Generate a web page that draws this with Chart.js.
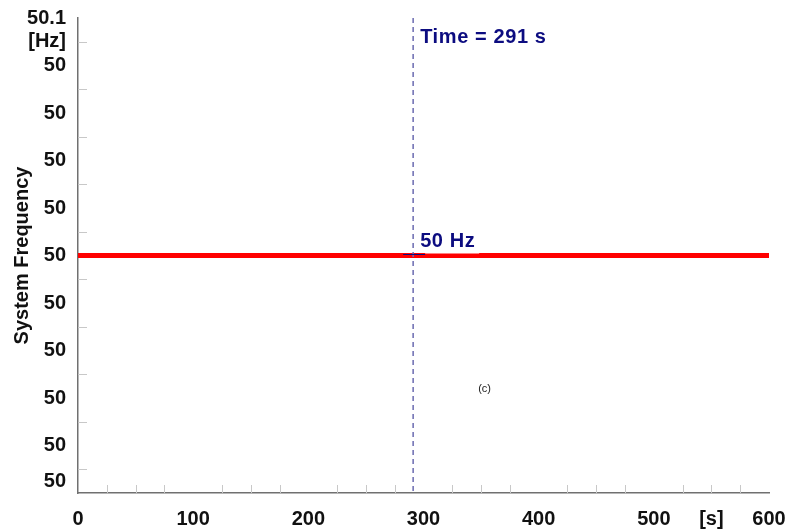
<!DOCTYPE html>
<html>
<head>
<meta charset="utf-8">
<script src="https://cdn.jsdelivr.net/npm/chart.js@4/dist/chart.umd.min.js"></script>
<style>
  html, body { margin: 0; padding: 0; background: #fff; }
  #wrap { width: 791px; height: 531px; }
</style>
</head>
<body>
<div id="wrap"><canvas id="freqChart" width="791" height="531"></canvas></div>
<script>
// data
const timeSec = [0, 100, 200, 300, 400, 500, 600];
const freqHz = [50, 50, 50, 50, 50, 50, 50];
const markerTime = 291;
const markerFreq = 50;

// tick labels
const xTickValues = [0, 100, 200, 300, 400, 500, 550, 600];
const xTickLabels = ['0', '100', '200', '300', '400', '500', '[s]', '600'];
const yTickValues = [50.1, 50.09, 50.08, 50.06, 50.04, 50.02, 50, 49.98, 49.96, 49.94, 49.92, 49.905];
const yTickLabels = ['50.1', '[Hz]', '50', '50', '50', '50', '50', '50', '50', '50', '50', '50'];
const xMinorTicks = [25, 50, 75, 125, 150, 175, 225, 250, 275, 325, 350, 375, 425, 450, 475, 525, 550, 575];
const yMinorTicks = [50.09, 50.07, 50.05, 50.03, 50.01, 49.99, 49.97, 49.95, 49.93, 49.91];

const FONT = '"Liberation Sans", Arial, sans-serif';
const NAVY = '#0c0c80';

// short inward tick marks, dashed time marker and labels
const markerPlugin = {
  id: 'markers',
  afterDatasetsDraw(chart) {
    const ctx = chart.ctx;
    const xs = chart.scales.x, ys = chart.scales.y;
    const area = chart.chartArea;
    ctx.save();

    ctx.strokeStyle = '#c8c8c8';
    ctx.lineWidth = 1;
    xMinorTicks.forEach(v => {
      const px = Math.round(xs.getPixelForValue(v)) + 0.5;
      ctx.beginPath();
      ctx.moveTo(px, area.bottom);
      ctx.lineTo(px, area.bottom - 8);
      ctx.stroke();
    });
    yMinorTicks.forEach(v => {
      const py = Math.round(ys.getPixelForValue(v)) + 0.5;
      ctx.beginPath();
      ctx.moveTo(area.left, py);
      ctx.lineTo(area.left + 9, py);
      ctx.stroke();
    });

    const mx = xs.getPixelForValue(markerTime);
    const my = ys.getPixelForValue(markerFreq);

    // white box behind the "50 Hz" label
    ctx.fillStyle = '#ffffff';
    ctx.fillRect(mx + 12, my - 25, 54, 23);

    // dashed vertical line
    ctx.strokeStyle = '#6b6bb0';
    ctx.lineWidth = 1.5;
    ctx.setLineDash([5, 4]);
    ctx.beginPath();
    ctx.moveTo(mx, area.top);
    ctx.lineTo(mx, area.bottom);
    ctx.stroke();
    ctx.setLineDash([]);

    // short leader at the crossing
    ctx.strokeStyle = NAVY;
    ctx.lineWidth = 1;
    ctx.beginPath();
    ctx.moveTo(mx - 10, my - 1);
    ctx.lineTo(mx + 12, my - 1);
    ctx.stroke();

    ctx.fillStyle = NAVY;
    ctx.font = 'bold 20px ' + FONT;
    ctx.letterSpacing = '0.6px';
    ctx.textAlign = 'left';
    ctx.textBaseline = 'middle';
    ctx.fillText('Time = ' + markerTime + ' s', mx + 7, area.top + 19);
    ctx.fillText(markerFreq + ' Hz', mx + 7, my - 14);
    ctx.letterSpacing = '0px';

    ctx.fillStyle = '#222';
    ctx.font = '11px ' + FONT;
    ctx.textAlign = 'center';
    ctx.fillText('(c)', xs.getPixelForValue(353), ys.getPixelForValue(49.944));

    ctx.restore();
  }
};

new Chart(document.getElementById('freqChart'), {
  type: 'line',
  data: {
    labels: timeSec,
    datasets: [{
      data: timeSec.map((t, i) => ({ x: t, y: freqHz[i] })),
      borderColor: '#ff0000',
      borderWidth: 5,
      pointRadius: 0,
      fill: false,
      tension: 0
    }]
  },
  options: {
    responsive: false,
    animation: false,
    layout: { padding: { top: 18, right: 22, left: 0, bottom: 0 } },
    plugins: {
      legend: { display: false },
      tooltip: { enabled: false }
    },
    scales: {
      x: {
        type: 'linear',
        min: 0,
        max: 600,
        afterFit(scale) { scale.height = 38; },
        afterBuildTicks(scale) { scale.ticks = xTickValues.map(v => ({ value: v })); },
        grid: { display: false, drawTicks: true, tickLength: 14 },
        border: { display: true, color: '#707070', width: 1.5 },
        ticks: {
          autoSkip: false,
          maxRotation: 0,
          padding: 0,
          color: '#111',
          font: { family: FONT, size: 20, weight: 'bold' },
          callback: (value, index) => xTickLabels[index]
        }
      },
      y: {
        type: 'linear',
        min: 49.9,
        max: 50.1,
        afterFit(scale) { scale.width = 78; },
        afterBuildTicks(scale) { scale.ticks = yTickValues.map(v => ({ value: v })); },
        grid: { display: false, drawTicks: true, tickLength: 12 },
        border: { display: true, color: '#707070', width: 1.5 },
        title: {
          display: true,
          text: 'System Frequency',
          color: '#111',
          padding: { top: 10, bottom: 4 },
          font: { family: FONT, size: 20, weight: 'bold' }
        },
        ticks: {
          autoSkip: false,
          padding: 0,
          color: '#111',
          font: { family: FONT, size: 20, weight: 'bold' },
          callback: (value, index) => yTickLabels[index]
        }
      }
    }
  },
  plugins: [markerPlugin]
});
</script>
</body>
</html>
